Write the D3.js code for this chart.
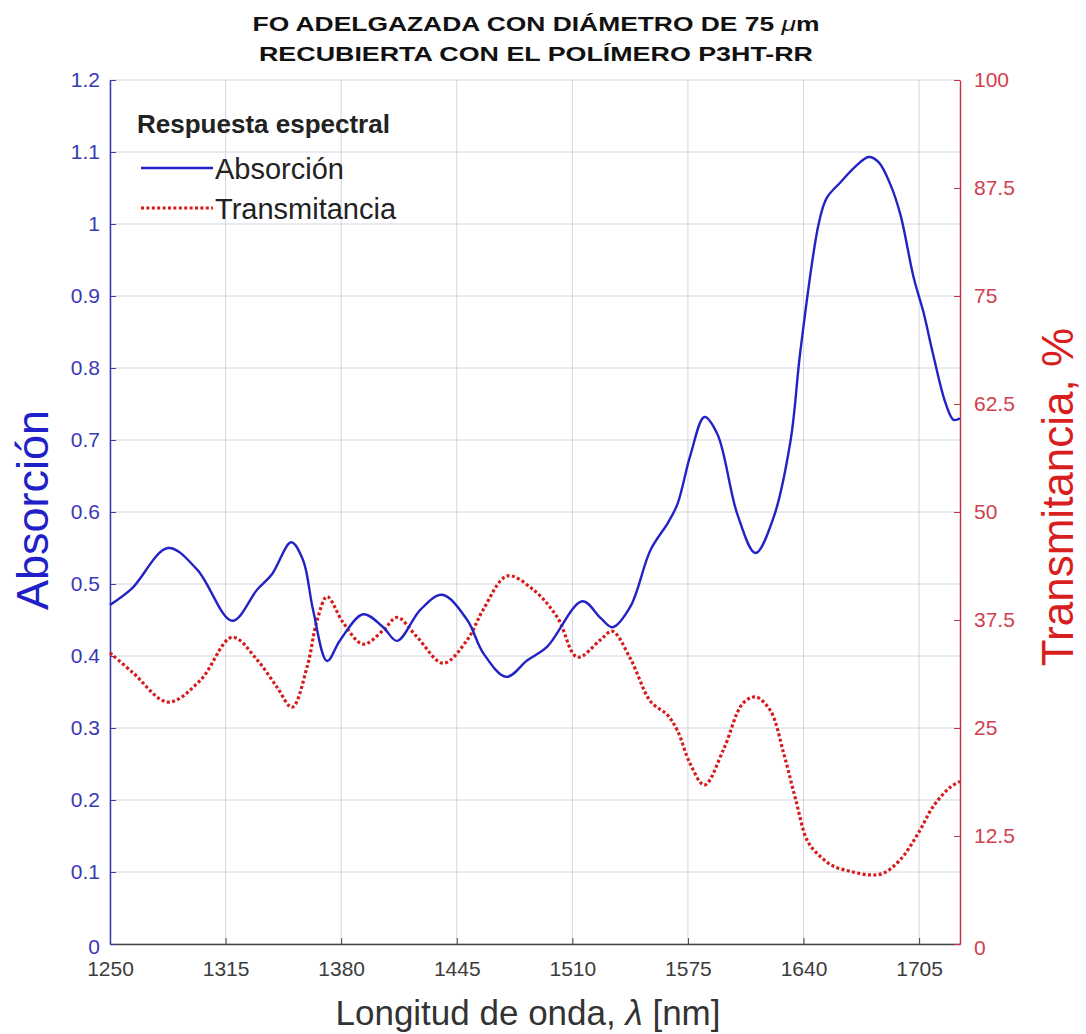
<!DOCTYPE html>
<html><head><meta charset="utf-8">
<script src="https://cdn.jsdelivr.net/npm/d3@7"></script>
<style>body{margin:0;background:#fff}svg{display:block}</style>
</head><body>
<svg id="c" width="1086" height="1034"></svg>
<script>
// Data
const absWave = [1250,1262.4,1282.6,1299,1318.7,1332.7,1341.2,1351.9,1358.6,1364.2,1372.1,1379.4,1392.4,1403.6,1411.5,1424.5,1436.8,1450.9,1459.9,1472.9,1484.7,1495.9,1515.6,1525.8,1532.5,1542.7,1553.9,1564,1569.1,1576.4,1584.3,1591.6,1602.9,1613,1623.1,1632.7,1638.3,1648.5,1653,1660.8,1669.3,1676.6,1682.2,1689,1694.6,1701.9,1707.6,1712.6,1719.9,1724.4,1728];
const absVal = [0.471,0.494,0.550,0.520,0.449,0.492,0.514,0.558,0.533,0.464,0.393,0.422,0.458,0.440,0.421,0.464,0.485,0.450,0.404,0.371,0.394,0.413,0.476,0.453,0.440,0.469,0.547,0.586,0.611,0.679,0.732,0.708,0.596,0.543,0.592,0.699,0.825,1.000,1.036,1.058,1.080,1.093,1.086,1.054,1.012,0.926,0.876,0.822,0.751,0.728,0.730];
const traWave = [1250,1262.9,1282.6,1300.7,1318.7,1332.7,1344,1352.4,1360.9,1366.5,1372.1,1381.1,1392.4,1403.6,1411.5,1422.8,1437.4,1450.9,1459.9,1473.4,1488.1,1501.6,1512.8,1525.8,1532.5,1542.7,1553.9,1563.5,1569.1,1576.4,1584.3,1595,1605.7,1613,1621.4,1628.8,1635.5,1642.3,1649.6,1656.9,1666.5,1676.6,1685,1694.6,1704.2,1713.2,1722.8,1728];
const traVal = [33.7,31.4,28.0,30.5,35.5,32.9,29.7,27.4,32.1,37.5,40.2,37.2,34.7,36.3,37.8,35.5,32.5,35.2,38.7,42.6,41.0,37.8,33.2,35.2,36.2,33.0,28.1,26.5,24.7,20.8,18.4,22.5,27.8,28.6,27.0,22.1,16.8,11.9,10.1,9.0,8.4,8.0,8.2,9.8,12.7,16.0,18.2,18.8];
const xTicks = [1250,1315,1380,1445,1510,1575,1640,1705];
const yLeftTicks = [0,0.1,0.2,0.3,0.4,0.5,0.6,0.7,0.8,0.9,1,1.1,1.2];
const yRightTicks = [0,12.5,25,37.5,50,62.5,75,87.5,100];

const svg = d3.select('#c');
const L=110, R=960, T=80, B=944;
const x = d3.scaleLinear().domain([1250,1728]).range([L,R]);
const yL = d3.scaleLinear().domain([0,1.2]).range([B,T]);
const yR = d3.scaleLinear().domain([0,100]).range([B,T]);
const font = '"Liberation Sans", Arial, sans-serif';
const blue = '#2222c6', red = '#d81a1a';

// grid
const g = svg.append('g');
g.selectAll('.vg').data(xTicks).join('line')
  .attr('x1',d=>x(d)).attr('x2',d=>x(d)).attr('y1',T).attr('y2',B)
  .attr('stroke','#d4d4e2').attr('stroke-width',1);
g.selectAll('.hg').data(yLeftTicks).join('line')
  .attr('x1',L).attr('x2',R).attr('y1',d=>yL(d)).attr('y2',d=>yL(d))
  .attr('stroke','#d4d4e2').attr('stroke-width',1);

// axes
const ax = svg.append('g').attr('transform',`translate(0,${B})`)
  .call(d3.axisBottom(x).tickValues(xTicks).tickSizeInner(-6).tickSizeOuter(0).tickPadding(17).tickFormat(d3.format('d')));
ax.select('.domain').attr('stroke','#444').attr('stroke-width',1.5);
ax.selectAll('.tick line').attr('stroke','#444');
ax.selectAll('text').attr('font-family',font).attr('font-size',21).attr('fill','#3c3c3c');

const ayl = svg.append('g').attr('transform',`translate(${L},0)`)
  .call(d3.axisLeft(yL).tickValues(yLeftTicks).tickSizeInner(-6).tickSizeOuter(0).tickPadding(10).tickFormat(d=>String(+d.toFixed(1))));
ayl.select('.domain').attr('stroke','#3c3cb0').attr('stroke-width',1.5);
ayl.selectAll('.tick line').attr('stroke','#3c3cb0');
ayl.selectAll('text').attr('font-family',font).attr('font-size',21).attr('fill','#3a3ab4');
ayl.selectAll('.tick').filter(d=>d===0).select('text').attr('dy','0.45em');

const ayr = svg.append('g').attr('transform',`translate(${R},0)`)
  .call(d3.axisRight(yR).tickValues(yRightTicks).tickSizeInner(-6).tickSizeOuter(0).tickPadding(14).tickFormat(d=>String(d)));
ayr.select('.domain').attr('stroke','#c8344a').attr('stroke-width',1.5);
ayr.selectAll('.tick line').attr('stroke','#c8344a');
ayr.selectAll('text').attr('font-family',font).attr('font-size',21).attr('fill','#d0404e');
ayr.selectAll('.tick').filter(d=>d===0).select('text').attr('dy','0.5em');

// lines
const absData = absWave.map((w,i)=>[w,absVal[i]]);
const traData = traWave.map((w,i)=>[w,traVal[i]]);
svg.append('path').datum(traData)
  .attr('d',d3.line().x(d=>x(d[0])).y(d=>yR(d[1])).curve(d3.curveCatmullRom.alpha(0.5)))
  .attr('fill','none').attr('stroke',red).attr('stroke-width',3.2).attr('stroke-dasharray','3,2.4');
svg.append('path').datum(absData)
  .attr('d',d3.line().x(d=>x(d[0])).y(d=>yL(d[1])).curve(d3.curveCatmullRom.alpha(0.5)))
  .attr('fill','none').attr('stroke',blue).attr('stroke-width',2.4);

// title
const t = svg.append('g').attr('font-family','"Liberation Sans Narrow", "Liberation Sans", Arial, sans-serif').attr('font-weight','bold').attr('font-size',21).attr('fill','#111').attr('text-anchor','middle');
const t1 = t.append('text').attr('x',536).attr('y',31).attr('textLength',567).attr('lengthAdjust','spacingAndGlyphs');
t1.append('tspan').text('FO ADELGAZADA CON DIÁMETRO DE 75 ');
t1.append('tspan').attr('font-style','italic').attr('font-weight','normal').text('μ');
t1.append('tspan').text('m');
t.append('text').attr('x',536).attr('y',61).attr('textLength',554).attr('lengthAdjust','spacingAndGlyphs').text('RECUBIERTA CON EL POLÍMERO P3HT-RR');

// axis labels
svg.append('text').attr('transform','translate(48,510) rotate(-90)').attr('text-anchor','middle')
  .attr('font-family',font).attr('font-size',45).attr('fill','#2020c8').text('Absorción');
svg.append('text').attr('transform','translate(1073,497) rotate(-90)').attr('text-anchor','middle')
  .attr('font-family',font).attr('font-size',44).attr('fill','#d81e1e').text('Transmitancia, %');
const xl = svg.append('text').attr('x',528).attr('y',1025).attr('text-anchor','middle')
  .attr('font-family',font).attr('font-size',35).attr('fill','#333');
xl.append('tspan').text('Longitud de onda, ');
xl.append('tspan').attr('font-style','italic').text('λ');
xl.append('tspan').text(' [nm]');

// legend
const lg = svg.append('g').attr('font-family',font);
lg.append('text').attr('x',137).attr('y',133).attr('font-size',26).attr('font-weight','bold').attr('fill','#222').text('Respuesta espectral');
lg.append('line').attr('x1',141).attr('x2',213).attr('y1',168).attr('y2',168).attr('stroke',blue).attr('stroke-width',2.4);
lg.append('text').attr('x',215).attr('y',179).attr('font-size',29).attr('fill','#222').text('Absorción');
lg.append('line').attr('x1',141).attr('x2',213).attr('y1',208).attr('y2',208).attr('stroke',red).attr('stroke-width',3.2).attr('stroke-dasharray','3,2.4');
lg.append('text').attr('x',215).attr('y',219).attr('font-size',29).attr('fill','#222').text('Transmitancia');
</script>
</body></html>
